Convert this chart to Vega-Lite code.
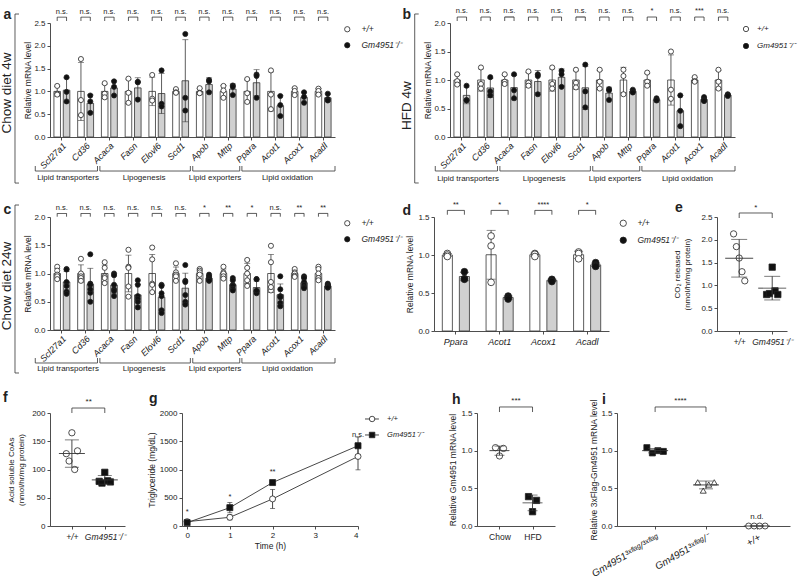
{
"$schema":"https://vega.github.io/schema/vega-lite/v6.json",
"background":"white",
"padding":{"left":0,"top":7,"right":0,"bottom":0},
"config":{
 "font":"Liberation Sans",
 "view":{"stroke":null},
 "axis":{"domainColor":"#3a3a3a","domainWidth":0.9,"tickColor":"#3a3a3a","tickWidth":0.9,"tickSize":3,"labelColor":"#222","labelFontSize":8,"labelPadding":2,"labelOverlap":false,"titleColor":"#222","titleFontSize":8.5,"titleFontWeight":"normal","titlePadding":2,"grid":false},
 "legend":{"labelColor":"#222","symbolStrokeColor":"#222","symbolStrokeWidth":0.8},
 "text":{"color":"#222"}
},
"datasets":{
 "m":[
{"p":"a","n":"Scl27a1","g":"W","v":1.12},{"p":"a","n":"Scl27a1","g":"W","v":0.95},{"p":"a","n":"Scl27a1","g":"W","v":0.93},{"p":"a","n":"Scl27a1","g":"K","v":1.31},{"p":"a","n":"Scl27a1","g":"K","v":0.99},{"p":"a","n":"Scl27a1","g":"K","v":0.78},
{"p":"a","n":"Cd36","g":"W","v":1.71},{"p":"a","n":"Cd36","g":"W","v":0.81},{"p":"a","n":"Cd36","g":"W","v":0.48},{"p":"a","n":"Cd36","g":"K","v":0.91},{"p":"a","n":"Cd36","g":"K","v":0.78},{"p":"a","n":"Cd36","g":"K","v":0.53},
{"p":"a","n":"Acaca","g":"W","v":1.18},{"p":"a","n":"Acaca","g":"W","v":0.95},{"p":"a","n":"Acaca","g":"W","v":0.87},{"p":"a","n":"Acaca","g":"K","v":1.22},{"p":"a","n":"Acaca","g":"K","v":1.1},{"p":"a","n":"Acaca","g":"K","v":0.91},
{"p":"a","n":"Fasn","g":"W","v":1.28},{"p":"a","n":"Fasn","g":"W","v":0.97},{"p":"a","n":"Fasn","g":"W","v":0.75},{"p":"a","n":"Fasn","g":"K","v":1.21},{"p":"a","n":"Fasn","g":"K","v":1.2},{"p":"a","n":"Fasn","g":"K","v":0.82},
{"p":"a","n":"Elovl6","g":"W","v":1.36},{"p":"a","n":"Elovl6","g":"W","v":0.84},{"p":"a","n":"Elovl6","g":"W","v":0.8},{"p":"a","n":"Elovl6","g":"K","v":1.46},{"p":"a","n":"Elovl6","g":"K","v":0.73},{"p":"a","n":"Elovl6","g":"K","v":0.67},
{"p":"a","n":"Scd1","g":"W","v":1.05},{"p":"a","n":"Scd1","g":"W","v":0.98},{"p":"a","n":"Scd1","g":"W","v":0.97},{"p":"a","n":"Scd1","g":"K","v":2.26},{"p":"a","n":"Scd1","g":"K","v":0.86},{"p":"a","n":"Scd1","g":"K","v":0.58},
{"p":"a","n":"Apob","g":"W","v":1.07},{"p":"a","n":"Apob","g":"W","v":0.97},{"p":"a","n":"Apob","g":"W","v":0.96},{"p":"a","n":"Apob","g":"K","v":1.25},{"p":"a","n":"Apob","g":"K","v":1.22},{"p":"a","n":"Apob","g":"K","v":0.98},
{"p":"a","n":"Mttp","g":"W","v":1.12},{"p":"a","n":"Mttp","g":"W","v":1.02},{"p":"a","n":"Mttp","g":"W","v":0.86},{"p":"a","n":"Mttp","g":"K","v":1.13},{"p":"a","n":"Mttp","g":"K","v":1.1},{"p":"a","n":"Mttp","g":"K","v":0.92},
{"p":"a","n":"Ppara","g":"W","v":1.27},{"p":"a","n":"Ppara","g":"W","v":0.96},{"p":"a","n":"Ppara","g":"W","v":0.77},{"p":"a","n":"Ppara","g":"K","v":1.37},{"p":"a","n":"Ppara","g":"K","v":1.34},{"p":"a","n":"Ppara","g":"K","v":0.86},
{"p":"a","n":"Acot1","g":"W","v":1.46},{"p":"a","n":"Acot1","g":"W","v":0.93},{"p":"a","n":"Acot1","g":"W","v":0.61},{"p":"a","n":"Acot1","g":"K","v":0.9},{"p":"a","n":"Acot1","g":"K","v":0.7},{"p":"a","n":"Acot1","g":"K","v":0.46},
{"p":"a","n":"Acox1","g":"W","v":1.07},{"p":"a","n":"Acox1","g":"W","v":1.01},{"p":"a","n":"Acox1","g":"W","v":0.92},{"p":"a","n":"Acox1","g":"K","v":0.98},{"p":"a","n":"Acox1","g":"K","v":0.88},{"p":"a","n":"Acox1","g":"K","v":0.75},
{"p":"a","n":"Acadl","g":"W","v":1.06},{"p":"a","n":"Acadl","g":"W","v":1.01},{"p":"a","n":"Acadl","g":"W","v":0.93},{"p":"a","n":"Acadl","g":"K","v":0.95},{"p":"a","n":"Acadl","g":"K","v":0.83},{"p":"a","n":"Acadl","g":"K","v":0.8},
{"p":"b","n":"Scl27a1","g":"W","v":1.1},{"p":"b","n":"Scl27a1","g":"W","v":0.98},{"p":"b","n":"Scl27a1","g":"W","v":0.92},{"p":"b","n":"Scl27a1","g":"K","v":0.9},{"p":"b","n":"Scl27a1","g":"K","v":0.65},{"p":"b","n":"Scl27a1","g":"K","v":0.64},
{"p":"b","n":"Cd36","g":"W","v":1.22},{"p":"b","n":"Cd36","g":"W","v":0.93},{"p":"b","n":"Cd36","g":"W","v":0.85},{"p":"b","n":"Cd36","g":"K","v":1.05},{"p":"b","n":"Cd36","g":"K","v":0.8},{"p":"b","n":"Cd36","g":"K","v":0.73},
{"p":"b","n":"Acaca","g":"W","v":1.1},{"p":"b","n":"Acaca","g":"W","v":0.97},{"p":"b","n":"Acaca","g":"W","v":0.93},{"p":"b","n":"Acaca","g":"K","v":1.1},{"p":"b","n":"Acaca","g":"K","v":0.82},{"p":"b","n":"Acaca","g":"K","v":0.68},
{"p":"b","n":"Fasn","g":"W","v":1.15},{"p":"b","n":"Fasn","g":"W","v":0.95},{"p":"b","n":"Fasn","g":"W","v":0.9},{"p":"b","n":"Fasn","g":"K","v":1.1},{"p":"b","n":"Fasn","g":"K","v":1.07},{"p":"b","n":"Fasn","g":"K","v":0.75},
{"p":"b","n":"Elovl6","g":"W","v":1.22},{"p":"b","n":"Elovl6","g":"W","v":0.93},{"p":"b","n":"Elovl6","g":"W","v":0.85},{"p":"b","n":"Elovl6","g":"K","v":1.16},{"p":"b","n":"Elovl6","g":"K","v":1.1},{"p":"b","n":"Elovl6","g":"K","v":0.88},
{"p":"b","n":"Scd1","g":"W","v":1.18},{"p":"b","n":"Scd1","g":"W","v":0.95},{"p":"b","n":"Scd1","g":"W","v":0.87},{"p":"b","n":"Scd1","g":"K","v":1.27},{"p":"b","n":"Scd1","g":"K","v":0.8},{"p":"b","n":"Scd1","g":"K","v":0.52},
{"p":"b","n":"Apob","g":"W","v":1.18},{"p":"b","n":"Apob","g":"W","v":0.97},{"p":"b","n":"Apob","g":"W","v":0.85},{"p":"b","n":"Apob","g":"K","v":0.84},{"p":"b","n":"Apob","g":"K","v":0.82},{"p":"b","n":"Apob","g":"K","v":0.65},
{"p":"b","n":"Mttp","g":"W","v":1.18},{"p":"b","n":"Mttp","g":"W","v":1.07},{"p":"b","n":"Mttp","g":"W","v":0.75},{"p":"b","n":"Mttp","g":"K","v":0.83},{"p":"b","n":"Mttp","g":"K","v":0.8},{"p":"b","n":"Mttp","g":"K","v":0.78},
{"p":"b","n":"Ppara","g":"W","v":1.13},{"p":"b","n":"Ppara","g":"W","v":0.97},{"p":"b","n":"Ppara","g":"W","v":0.9},{"p":"b","n":"Ppara","g":"K","v":0.68},{"p":"b","n":"Ppara","g":"K","v":0.65},{"p":"b","n":"Ppara","g":"K","v":0.64},
{"p":"b","n":"Acot1","g":"W","v":1.5},{"p":"b","n":"Acot1","g":"W","v":0.83},{"p":"b","n":"Acot1","g":"W","v":0.67},{"p":"b","n":"Acot1","g":"K","v":0.73},{"p":"b","n":"Acot1","g":"K","v":0.46},{"p":"b","n":"Acot1","g":"K","v":0.19},
{"p":"b","n":"Acox1","g":"W","v":1.05},{"p":"b","n":"Acox1","g":"W","v":0.98},{"p":"b","n":"Acox1","g":"W","v":0.97},{"p":"b","n":"Acox1","g":"K","v":0.7},{"p":"b","n":"Acox1","g":"K","v":0.66},{"p":"b","n":"Acox1","g":"K","v":0.64},{"p":"b","n":"Acox1","g":"K","v":0.63},
{"p":"b","n":"Acadl","g":"W","v":1.18},{"p":"b","n":"Acadl","g":"W","v":0.97},{"p":"b","n":"Acadl","g":"W","v":0.85},{"p":"b","n":"Acadl","g":"K","v":0.75},{"p":"b","n":"Acadl","g":"K","v":0.74},{"p":"b","n":"Acadl","g":"K","v":0.72},
{"p":"c","n":"Scl27a1","g":"W","v":1.12},{"p":"c","n":"Scl27a1","g":"W","v":1.05},{"p":"c","n":"Scl27a1","g":"W","v":0.98},{"p":"c","n":"Scl27a1","g":"W","v":0.95},{"p":"c","n":"Scl27a1","g":"W","v":0.9},
{"p":"c","n":"Scl27a1","g":"K","v":1.08},{"p":"c","n":"Scl27a1","g":"K","v":1.07},{"p":"c","n":"Scl27a1","g":"K","v":0.85},{"p":"c","n":"Scl27a1","g":"K","v":0.68},{"p":"c","n":"Scl27a1","g":"K","v":0.64},{"p":"c","n":"Scl27a1","g":"K","v":0.78},
{"p":"c","n":"Cd36","g":"W","v":1.26},{"p":"c","n":"Cd36","g":"W","v":1.0},{"p":"c","n":"Cd36","g":"W","v":0.95},{"p":"c","n":"Cd36","g":"W","v":0.92},{"p":"c","n":"Cd36","g":"W","v":0.87},
{"p":"c","n":"Cd36","g":"K","v":1.34},{"p":"c","n":"Cd36","g":"K","v":0.82},{"p":"c","n":"Cd36","g":"K","v":0.8},{"p":"c","n":"Cd36","g":"K","v":0.66},{"p":"c","n":"Cd36","g":"K","v":0.5},{"p":"c","n":"Cd36","g":"K","v":0.72},
{"p":"c","n":"Acaca","g":"W","v":1.2},{"p":"c","n":"Acaca","g":"W","v":1.1},{"p":"c","n":"Acaca","g":"W","v":0.95},{"p":"c","n":"Acaca","g":"W","v":0.92},{"p":"c","n":"Acaca","g":"W","v":0.83},
{"p":"c","n":"Acaca","g":"K","v":1.0},{"p":"c","n":"Acaca","g":"K","v":0.97},{"p":"c","n":"Acaca","g":"K","v":0.8},{"p":"c","n":"Acaca","g":"K","v":0.72},{"p":"c","n":"Acaca","g":"K","v":0.6},{"p":"c","n":"Acaca","g":"K","v":0.69},
{"p":"c","n":"Fasn","g":"W","v":1.42},{"p":"c","n":"Fasn","g":"W","v":1.12},{"p":"c","n":"Fasn","g":"W","v":1.1},{"p":"c","n":"Fasn","g":"W","v":0.77},{"p":"c","n":"Fasn","g":"W","v":0.59},
{"p":"c","n":"Fasn","g":"K","v":0.88},{"p":"c","n":"Fasn","g":"K","v":0.8},{"p":"c","n":"Fasn","g":"K","v":0.6},{"p":"c","n":"Fasn","g":"K","v":0.55},{"p":"c","n":"Fasn","g":"K","v":0.4},{"p":"c","n":"Fasn","g":"K","v":0.5},
{"p":"c","n":"Elovl6","g":"W","v":1.46},{"p":"c","n":"Elovl6","g":"W","v":1.25},{"p":"c","n":"Elovl6","g":"W","v":0.82},{"p":"c","n":"Elovl6","g":"W","v":0.8},{"p":"c","n":"Elovl6","g":"W","v":0.67},
{"p":"c","n":"Elovl6","g":"K","v":0.8},{"p":"c","n":"Elovl6","g":"K","v":0.78},{"p":"c","n":"Elovl6","g":"K","v":0.6},{"p":"c","n":"Elovl6","g":"K","v":0.35},{"p":"c","n":"Elovl6","g":"K","v":0.3},{"p":"c","n":"Elovl6","g":"K","v":0.65},
{"p":"c","n":"Scd1","g":"W","v":1.18},{"p":"c","n":"Scd1","g":"W","v":1.02},{"p":"c","n":"Scd1","g":"W","v":0.98},{"p":"c","n":"Scd1","g":"W","v":0.95},{"p":"c","n":"Scd1","g":"W","v":0.87},
{"p":"c","n":"Scd1","g":"K","v":1.15},{"p":"c","n":"Scd1","g":"K","v":0.87},{"p":"c","n":"Scd1","g":"K","v":0.85},{"p":"c","n":"Scd1","g":"K","v":0.5},{"p":"c","n":"Scd1","g":"K","v":0.45},{"p":"c","n":"Scd1","g":"K","v":0.62},
{"p":"c","n":"Apob","g":"W","v":1.08},{"p":"c","n":"Apob","g":"W","v":1.05},{"p":"c","n":"Apob","g":"W","v":1.02},{"p":"c","n":"Apob","g":"W","v":0.98},{"p":"c","n":"Apob","g":"W","v":0.87},
{"p":"c","n":"Apob","g":"K","v":0.98},{"p":"c","n":"Apob","g":"K","v":0.95},{"p":"c","n":"Apob","g":"K","v":0.92},{"p":"c","n":"Apob","g":"K","v":0.9},{"p":"c","n":"Apob","g":"K","v":0.88},{"p":"c","n":"Apob","g":"K","v":0.87},
{"p":"c","n":"Mttp","g":"W","v":1.12},{"p":"c","n":"Mttp","g":"W","v":1.02},{"p":"c","n":"Mttp","g":"W","v":1.0},{"p":"c","n":"Mttp","g":"W","v":0.95},{"p":"c","n":"Mttp","g":"W","v":0.91},
{"p":"c","n":"Mttp","g":"K","v":0.92},{"p":"c","n":"Mttp","g":"K","v":0.88},{"p":"c","n":"Mttp","g":"K","v":0.8},{"p":"c","n":"Mttp","g":"K","v":0.78},{"p":"c","n":"Mttp","g":"K","v":0.73},{"p":"c","n":"Mttp","g":"K","v":0.7},
{"p":"c","n":"Ppara","g":"W","v":1.24},{"p":"c","n":"Ppara","g":"W","v":1.1},{"p":"c","n":"Ppara","g":"W","v":1.0},{"p":"c","n":"Ppara","g":"W","v":0.88},{"p":"c","n":"Ppara","g":"W","v":0.78},
{"p":"c","n":"Ppara","g":"K","v":0.9},{"p":"c","n":"Ppara","g":"K","v":0.9},{"p":"c","n":"Ppara","g":"K","v":0.68},{"p":"c","n":"Ppara","g":"K","v":0.68},{"p":"c","n":"Ppara","g":"K","v":0.65},{"p":"c","n":"Ppara","g":"K","v":0.7},
{"p":"c","n":"Acot1","g":"W","v":1.49},{"p":"c","n":"Acot1","g":"W","v":1.2},{"p":"c","n":"Acot1","g":"W","v":0.85},{"p":"c","n":"Acot1","g":"W","v":0.7},{"p":"c","n":"Acot1","g":"W","v":0.76},
{"p":"c","n":"Acot1","g":"K","v":0.95},{"p":"c","n":"Acot1","g":"K","v":0.72},{"p":"c","n":"Acot1","g":"K","v":0.6},{"p":"c","n":"Acot1","g":"K","v":0.58},{"p":"c","n":"Acot1","g":"K","v":0.48},{"p":"c","n":"Acot1","g":"K","v":0.42},
{"p":"c","n":"Acox1","g":"W","v":1.08},{"p":"c","n":"Acox1","g":"W","v":1.02},{"p":"c","n":"Acox1","g":"W","v":1.0},{"p":"c","n":"Acox1","g":"W","v":0.96},{"p":"c","n":"Acox1","g":"W","v":0.94},
{"p":"c","n":"Acox1","g":"K","v":0.95},{"p":"c","n":"Acox1","g":"K","v":0.92},{"p":"c","n":"Acox1","g":"K","v":0.85},{"p":"c","n":"Acox1","g":"K","v":0.8},{"p":"c","n":"Acox1","g":"K","v":0.76},{"p":"c","n":"Acox1","g":"K","v":0.74},
{"p":"c","n":"Acadl","g":"W","v":1.12},{"p":"c","n":"Acadl","g":"W","v":1.08},{"p":"c","n":"Acadl","g":"W","v":1.0},{"p":"c","n":"Acadl","g":"W","v":0.92},{"p":"c","n":"Acadl","g":"W","v":0.88},
{"p":"c","n":"Acadl","g":"K","v":0.82},{"p":"c","n":"Acadl","g":"K","v":0.8},{"p":"c","n":"Acadl","g":"K","v":0.78},{"p":"c","n":"Acadl","g":"K","v":0.77},{"p":"c","n":"Acadl","g":"K","v":0.76},{"p":"c","n":"Acadl","g":"K","v":0.75},
{"p":"d","n":"Ppara","g":"W","v":1.02},{"p":"d","n":"Ppara","g":"W","v":1.0},{"p":"d","n":"Ppara","g":"W","v":0.98},{"p":"d","n":"Ppara","g":"K","v":0.78},{"p":"d","n":"Ppara","g":"K","v":0.69},{"p":"d","n":"Ppara","g":"K","v":0.68},
{"p":"d","n":"Acot1","g":"W","v":1.25},{"p":"d","n":"Acot1","g":"W","v":1.12},{"p":"d","n":"Acot1","g":"W","v":0.64},{"p":"d","n":"Acot1","g":"K","v":0.46},{"p":"d","n":"Acot1","g":"K","v":0.44},{"p":"d","n":"Acot1","g":"K","v":0.42},
{"p":"d","n":"Acox1","g":"W","v":1.02},{"p":"d","n":"Acox1","g":"W","v":1.01},{"p":"d","n":"Acox1","g":"W","v":0.98},{"p":"d","n":"Acox1","g":"K","v":0.68},{"p":"d","n":"Acox1","g":"K","v":0.67},{"p":"d","n":"Acox1","g":"K","v":0.65},
{"p":"d","n":"Acadl","g":"W","v":1.04},{"p":"d","n":"Acadl","g":"W","v":1.02},{"p":"d","n":"Acadl","g":"W","v":0.95},{"p":"d","n":"Acadl","g":"K","v":0.9},{"p":"d","n":"Acadl","g":"K","v":0.87},{"p":"d","n":"Acadl","g":"K","v":0.86},{"p":"d","n":"Acadl","g":"K","v":0.85}
 ],
 "s":[
{"p":"a","n":"Scl27a1","s":"n.s."},{"p":"a","n":"Cd36","s":"n.s."},{"p":"a","n":"Acaca","s":"n.s."},{"p":"a","n":"Fasn","s":"n.s."},{"p":"a","n":"Elovl6","s":"n.s."},{"p":"a","n":"Scd1","s":"n.s."},{"p":"a","n":"Apob","s":"n.s."},{"p":"a","n":"Mttp","s":"n.s."},{"p":"a","n":"Ppara","s":"n.s."},{"p":"a","n":"Acot1","s":"n.s."},{"p":"a","n":"Acox1","s":"n.s."},{"p":"a","n":"Acadl","s":"n.s."},
{"p":"b","n":"Scl27a1","s":"n.s."},{"p":"b","n":"Cd36","s":"n.s."},{"p":"b","n":"Acaca","s":"n.s."},{"p":"b","n":"Fasn","s":"n.s."},{"p":"b","n":"Elovl6","s":"n.s."},{"p":"b","n":"Scd1","s":"n.s."},{"p":"b","n":"Apob","s":"n.s."},{"p":"b","n":"Mttp","s":"n.s."},{"p":"b","n":"Ppara","s":"*"},{"p":"b","n":"Acot1","s":"n.s."},{"p":"b","n":"Acox1","s":"***"},{"p":"b","n":"Acadl","s":"n.s."},
{"p":"c","n":"Scl27a1","s":"n.s."},{"p":"c","n":"Cd36","s":"n.s."},{"p":"c","n":"Acaca","s":"n.s."},{"p":"c","n":"Fasn","s":"n.s."},{"p":"c","n":"Elovl6","s":"n.s."},{"p":"c","n":"Scd1","s":"n.s."},{"p":"c","n":"Apob","s":"*"},{"p":"c","n":"Mttp","s":"**"},{"p":"c","n":"Ppara","s":"*"},{"p":"c","n":"Acot1","s":"n.s."},{"p":"c","n":"Acox1","s":"**"},{"p":"c","n":"Acadl","s":"**"},
{"p":"d","n":"Ppara","s":"**"},{"p":"d","n":"Acot1","s":"*"},{"p":"d","n":"Acox1","s":"****"},{"p":"d","n":"Acadl","s":"*"}
 ],
 "gr":[
{"l":"Lipid transporters","f":-0.62,"t":2.0,"c":0.76},{"l":"Lipogenesis","f":2.1,"t":5.91,"c":3.96},{"l":"Lipid exporters","f":6.01,"t":7.99,"c":6.95},{"l":"Lipid oxidation","f":8.08,"t":12,"c":10}
 ],
 "pm":[
{"p":"a","L":"a","T":"Chow diet 4w"},{"p":"b","L":"b","T":"HFD 4w"},{"p":"c","L":"c","T":"Chow diet 24w"},{"p":"d","L":"d"},{"p":"e","L":"e"},{"p":"f","L":"f"},{"p":"g","L":"g"},{"p":"h","L":"h"},{"p":"i","L":"i"}
 ],
 "sc":[
{"p":"e","c":"+/+","r":"1","v":2.13},{"p":"e","c":"+/+","r":"2","v":1.85},{"p":"e","c":"+/+","r":"3","v":1.6},{"p":"e","c":"+/+","r":"4","v":1.3},{"p":"e","c":"+/+","r":"5","v":1.1},
{"p":"e","c":"Gm4951⁻/⁻","r":"1","v":0.8},{"p":"e","c":"Gm4951⁻/⁻","r":"2","v":0.82},{"p":"e","c":"Gm4951⁻/⁻","r":"3","v":1.4},{"p":"e","c":"Gm4951⁻/⁻","r":"4","v":0.88},{"p":"e","c":"Gm4951⁻/⁻","r":"5","v":0.8},
{"p":"f","c":"+/+","r":"1","v":128},{"p":"f","c":"+/+","r":"2","v":115},{"p":"f","c":"+/+","r":"3","v":165},{"p":"f","c":"+/+","r":"4","v":100},{"p":"f","c":"+/+","r":"5","v":133},
{"p":"f","c":"Gm4951⁻/⁻","r":"1","v":79},{"p":"f","c":"Gm4951⁻/⁻","r":"2","v":76},{"p":"f","c":"Gm4951⁻/⁻","r":"3","v":95},{"p":"f","c":"Gm4951⁻/⁻","r":"4","v":80},{"p":"f","c":"Gm4951⁻/⁻","r":"5","v":78},
{"p":"h","c":"Chow","r":"1","v":1.04},{"p":"h","c":"Chow","r":"2","v":0.93},{"p":"h","c":"Chow","r":"3","v":1.03},
{"p":"h","c":"HFD","r":"1","v":0.39},{"p":"h","c":"HFD","r":"2","v":0.19},{"p":"h","c":"HFD","r":"3","v":0.34},
{"p":"i","c":"Gm4951³ˣᶠˡᵃᵍ/³ˣᶠˡᵃᵍ","r":"1","v":1.04},{"p":"i","c":"Gm4951³ˣᶠˡᵃᵍ/³ˣᶠˡᵃᵍ","r":"2","v":0.97},{"p":"i","c":"Gm4951³ˣᶠˡᵃᵍ/³ˣᶠˡᵃᵍ","r":"3","v":1.0},{"p":"i","c":"Gm4951³ˣᶠˡᵃᵍ/³ˣᶠˡᵃᵍ","r":"4","v":0.99},
{"p":"i","c":"Gm4951³ˣᶠˡᵃᵍ/⁻","r":"1","v":0.58},{"p":"i","c":"Gm4951³ˣᶠˡᵃᵍ/⁻","r":"2","v":0.47},{"p":"i","c":"Gm4951³ˣᶠˡᵃᵍ/⁻","r":"3","v":0.55},{"p":"i","c":"Gm4951³ˣᶠˡᵃᵍ/⁻","r":"4","v":0.58},
{"p":"i","c":"+/+","r":"1","v":0},{"p":"i","c":"+/+","r":"2","v":0},{"p":"i","c":"+/+","r":"3","v":0},{"p":"i","c":"+/+","r":"4","v":0}
 ],
 "s2":[
{"p":"e","a":"+/+","b":"Gm4951⁻/⁻","s":"*"},{"p":"f","a":"+/+","b":"Gm4951⁻/⁻","s":"**"},{"p":"h","a":"Chow","b":"HFD","s":"***"},{"p":"i","a":"Gm4951³ˣᶠˡᵃᵍ/³ˣᶠˡᵃᵍ","b":"Gm4951³ˣᶠˡᵃᵍ/⁻","s":"****"}
 ],
 "nd":[{"p":"i","c":"+/+","s":"n.d."}],
 "gd":[
{"g":"W","t":0,"m":77,"sd":12,"s":""},{"g":"W","t":1,"m":154,"sd":45,"s":""},{"g":"W","t":2,"m":479,"sd":168,"s":""},{"g":"W","t":4,"m":1231,"sd":237,"s":""},
{"g":"K","t":0,"m":59,"sd":8,"s":"*"},{"g":"K","t":1,"m":325,"sd":90,"s":"*"},{"g":"K","t":2,"m":769,"sd":15,"s":"**"},{"g":"K","t":4,"m":1420,"sd":154,"s":"n.s."}
 ],
 "gl":[{"g":"W","lab":"+/+"},{"g":"K","lab":"Gm4951⁻/⁻"}]
},
"spacing":17,
"resolve":{"scale":{"fill":"independent","shape":"independent","xOffset":"independent"}},
"vconcat":[
{"hconcat":[
 {"width":285,"height":114,"resolve":{"scale":{"x":"independent"}},
  "layer":[
   {"data":{"name":"m"},"transform":[{"filter":"datum.p=='a'"}],
    "encoding":{"x":{"field":"n","type":"nominal","scale":{"domain":["Scl27a1","Cd36","Acaca","Fasn","Elovl6","Scd1","Apob","Mttp","Ppara","Acot1","Acox1","Acadl"],"paddingInner":0.33,"paddingOuter":0.165},"axis":{"title":null,"labelAngle":-45,"labelFontStyle":"italic","labelFontSize":9,"labelPadding":1}}},
    "layer":[
     {"mark":{"type":"bar","stroke":"#333","strokeWidth":0.8},"encoding":{"xOffset":{"field":"g","type":"nominal","scale":{"domain":["W","K"],"paddingInner":0.3,"paddingOuter":0}},"y":{"aggregate":"mean","field":"v","type":"quantitative","title":"Relative mRNA level","scale":{"domain":[0,2.5],"nice":false},"axis":{"title":"Relative mRNA level","values":[0,0.5,1,1.5,2,2.5],"tickCount":6,"labelOverlap":false,"format":".1f","titlePadding":1}},"fill":{"condition":{"test":"datum.g=='W'","value":"white"},"value":"#d0d0d0"}}},
     {"mark":{"type":"errorbar","extent":"stdev","ticks":true,"size":6,"thickness":0.8,"color":"#333"},"encoding":{"xOffset":{"field":"g","type":"nominal"},"y":{"field":"v","type":"quantitative","title":"Relative mRNA level","axis":{"title":"Relative mRNA level","values":[0,0.5,1,1.5,2,2.5],"tickCount":6,"labelOverlap":false,"format":".1f","titlePadding":1}}}},
     {"mark":{"type":"point","shape":"circle","filled":true,"size":26,"stroke":"#222","strokeWidth":0.8,"opacity":1},"encoding":{"xOffset":{"field":"g","type":"nominal"},"y":{"field":"v","type":"quantitative","title":"Relative mRNA level","axis":{"title":"Relative mRNA level","values":[0,0.5,1,1.5,2,2.5],"tickCount":6,"labelOverlap":false,"format":".1f","titlePadding":1}},"fill":{"field":"g","type":"nominal","scale":{"domain":["W","K"],"range":["white","#111"]},"legend":{"title":null,"orient":"right","offset":6,"labelExpr":"datum.value=='W' ? '+/+' : 'Gm4951⁻/⁻'","symbolType":"circle","symbolSize":28,"rowPadding":7,"labelOffset":10,"padding":2,"labelFontSize":8.5,"labelFontStyle":"italic"}}}},
     {"transform":[{"aggregate":[{"op":"count","as":"k"}],"groupby":["n","g"]}],"mark":{"type":"rule","color":"#333","strokeWidth":0.8},"encoding":{"xOffset":{"field":"g","type":"nominal"},"y":{"datum":2.544},"y2":{"datum":2.63}}},
     {"data":{"name":"s"},"transform":[{"filter":"datum.p=='a'"}],"layer":[
       {"mark":{"type":"tick","orient":"horizontal","size":9.4,"thickness":0.8,"color":"#333","opacity":1},"encoding":{"y":{"datum":2.63}}},
       {"mark":{"type":"text","baseline":"bottom","fontSize":7.5},"encoding":{"y":{"datum":2.664},"text":{"field":"s"}}}
     ]}
    ]},
   {"layer":[
     {"data":{"name":"gr"},"layer":[
       {"mark":{"type":"rule","color":"#333","strokeWidth":0.8},"encoding":{"x":{"field":"f","type":"quantitative","scale":{"domain":[0,12],"nice":false,"zero":false},"axis":null},"x2":{"field":"t"},"y":{"datum":-0.746}}},
       {"mark":{"type":"rule","color":"#333","strokeWidth":0.8},"encoding":{"x":{"field":"f","type":"quantitative"},"y":{"datum":-0.746},"y2":{"datum":-0.636}}},
       {"mark":{"type":"rule","color":"#333","strokeWidth":0.8},"encoding":{"x":{"field":"t","type":"quantitative"},"y":{"datum":-0.746},"y2":{"datum":-0.636}}},
       {"mark":{"type":"text","baseline":"top","fontSize":8},"encoding":{"x":{"field":"c","type":"quantitative"},"y":{"datum":-0.82},"text":{"field":"l"}}}
     ]},
     {"data":{"name":"pm"},"transform":[{"filter":"datum.p=='a'"}],"layer":[
       {"mark":{"type":"rule","color":"#333","strokeWidth":0.8},"encoding":{"x":{"datum":-1.474},"y":{"datum":-1.01},"y2":{"datum":2.697}}},
       {"mark":{"type":"rule","color":"#333","strokeWidth":0.8},"encoding":{"x":{"datum":-1.474},"x2":{"datum":-1.305},"y":{"datum":2.697}}},
       {"mark":{"type":"rule","color":"#333","strokeWidth":0.8},"encoding":{"x":{"datum":-1.474},"x2":{"datum":-1.305},"y":{"datum":-1.01}}},
       {"mark":{"type":"text","angle":270,"fontSize":13.5,"baseline":"middle"},"encoding":{"x":{"datum":-1.81},"y":{"datum":0.965},"text":{"field":"T"}}},
       {"mark":{"type":"text","fontSize":14,"fontWeight":"bold","align":"left"},"encoding":{"x":{"datum":-1.958},"y":{"datum":2.675},"text":{"field":"L"}}}
     ]}
   ]}
  ]},
 {"width":115,"height":10,"data":{"values":[{}]},"mark":{"type":"point","opacity":0}},
 {"width":285,"height":114,"resolve":{"scale":{"x":"independent"}},
  "layer":[
   {"data":{"name":"m"},"transform":[{"filter":"datum.p=='b'"}],
    "encoding":{"x":{"field":"n","type":"nominal","scale":{"domain":["Scl27a1","Cd36","Acaca","Fasn","Elovl6","Scd1","Apob","Mttp","Ppara","Acot1","Acox1","Acadl"],"paddingInner":0.33,"paddingOuter":0.165},"axis":{"title":null,"labelAngle":-45,"labelFontStyle":"italic","labelFontSize":9,"labelPadding":1}}},
    "layer":[
     {"mark":{"type":"bar","stroke":"#333","strokeWidth":0.8},"encoding":{"xOffset":{"field":"g","type":"nominal","scale":{"domain":["W","K"],"paddingInner":0.3,"paddingOuter":0}},"y":{"aggregate":"mean","field":"v","type":"quantitative","title":"Relative mRNA level","scale":{"domain":[0,2],"nice":false},"axis":{"title":"Relative mRNA level","values":[0,0.5,1,1.5,2],"tickCount":5,"labelOverlap":false,"format":".1f","titlePadding":1}},"fill":{"condition":{"test":"datum.g=='W'","value":"white"},"value":"#d0d0d0"}}},
     {"mark":{"type":"errorbar","extent":"stdev","ticks":true,"size":6,"thickness":0.8,"color":"#333"},"encoding":{"xOffset":{"field":"g","type":"nominal"},"y":{"field":"v","type":"quantitative","title":"Relative mRNA level","axis":{"title":"Relative mRNA level","values":[0,0.5,1,1.5,2],"tickCount":5,"labelOverlap":false,"format":".1f","titlePadding":1}}}},
     {"mark":{"type":"point","shape":"circle","filled":true,"size":26,"stroke":"#222","strokeWidth":0.8,"opacity":1},"encoding":{"xOffset":{"field":"g","type":"nominal"},"y":{"field":"v","type":"quantitative","title":"Relative mRNA level","axis":{"title":"Relative mRNA level","values":[0,0.5,1,1.5,2],"tickCount":5,"labelOverlap":false,"format":".1f","titlePadding":1}},"fill":{"field":"g","type":"nominal","scale":{"domain":["W","K"],"range":["white","#111"]},"legend":{"title":null,"orient":"right","offset":5,"labelExpr":"datum.value=='W' ? '+/+' : 'Gm4951⁻/⁻'","symbolType":"circle","symbolSize":28,"rowPadding":7,"labelOffset":7,"padding":2,"labelFontSize":8,"labelFontStyle":"italic"}}}},
     {"transform":[{"aggregate":[{"op":"count","as":"k"}],"groupby":["n","g"]}],"mark":{"type":"rule","color":"#333","strokeWidth":0.8},"encoding":{"xOffset":{"field":"g","type":"nominal"},"y":{"datum":2.035},"y2":{"datum":2.105}}},
     {"data":{"name":"s"},"transform":[{"filter":"datum.p=='b'"}],"layer":[
       {"mark":{"type":"tick","orient":"horizontal","size":9.4,"thickness":0.8,"color":"#333","opacity":1},"encoding":{"y":{"datum":2.105}}},
       {"mark":{"type":"text","baseline":"bottom","fontSize":7.5},"encoding":{"y":{"datum":2.132},"text":{"field":"s"}}}
     ]}
    ]},
   {"layer":[
     {"data":{"name":"gr"},"layer":[
       {"mark":{"type":"rule","color":"#333","strokeWidth":0.8},"encoding":{"x":{"field":"f","type":"quantitative","scale":{"domain":[0,12],"nice":false,"zero":false},"axis":null},"x2":{"field":"t"},"y":{"datum":-0.596}}},
       {"mark":{"type":"rule","color":"#333","strokeWidth":0.8},"encoding":{"x":{"field":"f","type":"quantitative"},"y":{"datum":-0.596},"y2":{"datum":-0.509}}},
       {"mark":{"type":"rule","color":"#333","strokeWidth":0.8},"encoding":{"x":{"field":"t","type":"quantitative"},"y":{"datum":-0.596},"y2":{"datum":-0.509}}},
       {"mark":{"type":"text","baseline":"top","fontSize":8},"encoding":{"x":{"field":"c","type":"quantitative"},"y":{"datum":-0.667},"text":{"field":"l"}}}
     ]},
     {"data":{"name":"pm"},"transform":[{"filter":"datum.p=='b'"}],"layer":[
       {"mark":{"type":"rule","color":"#333","strokeWidth":0.8},"encoding":{"x":{"datum":-1.486},"y":{"datum":-0.807},"y2":{"datum":2.158}}},
       {"mark":{"type":"rule","color":"#333","strokeWidth":0.8},"encoding":{"x":{"datum":-1.486},"x2":{"datum":-1.318},"y":{"datum":2.158}}},
       {"mark":{"type":"rule","color":"#333","strokeWidth":0.8},"encoding":{"x":{"datum":-1.486},"x2":{"datum":-1.318},"y":{"datum":-0.807}}},
       {"mark":{"type":"text","angle":270,"fontSize":13.5,"baseline":"middle"},"encoding":{"x":{"datum":-1.81},"y":{"datum":0.55},"text":{"field":"T"}}},
       {"mark":{"type":"text","fontSize":14,"fontWeight":"bold","align":"left"},"encoding":{"x":{"datum":-2.0},"y":{"datum":2.14},"text":{"field":"L"}}}
     ]}
   ]}
  ]}
],"spacing":0,"bounds":"flush","resolve":{"scale":{"fill":"independent","shape":"independent","xOffset":"independent"}}},
{"hconcat":[
 {"width":285,"height":113,"resolve":{"scale":{"x":"independent"}},
  "layer":[
   {"data":{"name":"m"},"transform":[{"filter":"datum.p=='c'"}],
    "encoding":{"x":{"field":"n","type":"nominal","scale":{"domain":["Scl27a1","Cd36","Acaca","Fasn","Elovl6","Scd1","Apob","Mttp","Ppara","Acot1","Acox1","Acadl"],"paddingInner":0.33,"paddingOuter":0.165},"axis":{"title":null,"labelAngle":-45,"labelFontStyle":"italic","labelFontSize":9,"labelPadding":1}}},
    "layer":[
     {"mark":{"type":"bar","stroke":"#333","strokeWidth":0.8},"encoding":{"xOffset":{"field":"g","type":"nominal","scale":{"domain":["W","K"],"paddingInner":0.3,"paddingOuter":0}},"y":{"aggregate":"mean","field":"v","type":"quantitative","title":"Relative mRNA level","scale":{"domain":[0,2],"nice":false},"axis":{"title":"Relative mRNA level","values":[0,0.5,1,1.5,2],"tickCount":5,"labelOverlap":false,"format":".1f","titlePadding":1}},"fill":{"condition":{"test":"datum.g=='W'","value":"white"},"value":"#d0d0d0"}}},
     {"mark":{"type":"errorbar","extent":"stdev","ticks":true,"size":6,"thickness":0.8,"color":"#333"},"encoding":{"xOffset":{"field":"g","type":"nominal"},"y":{"field":"v","type":"quantitative","title":"Relative mRNA level","axis":{"title":"Relative mRNA level","values":[0,0.5,1,1.5,2],"tickCount":5,"labelOverlap":false,"format":".1f","titlePadding":1}}}},
     {"mark":{"type":"point","shape":"circle","filled":true,"size":26,"stroke":"#222","strokeWidth":0.8,"opacity":1},"encoding":{"xOffset":{"field":"g","type":"nominal"},"y":{"field":"v","type":"quantitative","title":"Relative mRNA level","axis":{"title":"Relative mRNA level","values":[0,0.5,1,1.5,2],"tickCount":5,"labelOverlap":false,"format":".1f","titlePadding":1}},"fill":{"field":"g","type":"nominal","scale":{"domain":["W","K"],"range":["white","#111"]},"legend":{"title":null,"orient":"right","offset":6,"labelExpr":"datum.value=='W' ? '+/+' : 'Gm4951⁻/⁻'","symbolType":"circle","symbolSize":28,"rowPadding":7,"labelOffset":10,"padding":2,"labelFontSize":8.5,"labelFontStyle":"italic"}}}},
     {"transform":[{"aggregate":[{"op":"count","as":"k"}],"groupby":["n","g"]}],"mark":{"type":"rule","color":"#333","strokeWidth":0.8},"encoding":{"xOffset":{"field":"g","type":"nominal"},"y":{"datum":2.005},"y2":{"datum":2.065}}},
     {"data":{"name":"s"},"transform":[{"filter":"datum.p=='c'"}],"layer":[
       {"mark":{"type":"tick","orient":"horizontal","size":9.4,"thickness":0.8,"color":"#333","opacity":1},"encoding":{"y":{"datum":2.065}}},
       {"mark":{"type":"text","baseline":"bottom","fontSize":7.5},"encoding":{"y":{"datum":2.097},"text":{"field":"s"}}}
     ]}
    ]},
   {"layer":[
     {"data":{"name":"gr"},"layer":[
       {"mark":{"type":"rule","color":"#333","strokeWidth":0.8},"encoding":{"x":{"field":"f","type":"quantitative","scale":{"domain":[0,12],"nice":false,"zero":false},"axis":null},"x2":{"field":"t"},"y":{"datum":-0.584}}},
       {"mark":{"type":"rule","color":"#333","strokeWidth":0.8},"encoding":{"x":{"field":"f","type":"quantitative"},"y":{"datum":-0.584},"y2":{"datum":-0.496}}},
       {"mark":{"type":"rule","color":"#333","strokeWidth":0.8},"encoding":{"x":{"field":"t","type":"quantitative"},"y":{"datum":-0.584},"y2":{"datum":-0.496}}},
       {"mark":{"type":"text","baseline":"top","fontSize":8},"encoding":{"x":{"field":"c","type":"quantitative"},"y":{"datum":-0.62},"text":{"field":"l"}}}
     ]},
     {"data":{"name":"pm"},"transform":[{"filter":"datum.p=='c'"}],"layer":[
       {"mark":{"type":"rule","color":"#333","strokeWidth":0.8},"encoding":{"x":{"datum":-1.474},"y":{"datum":-0.761},"y2":{"datum":2.212}}},
       {"mark":{"type":"rule","color":"#333","strokeWidth":0.8},"encoding":{"x":{"datum":-1.474},"x2":{"datum":-1.305},"y":{"datum":2.212}}},
       {"mark":{"type":"rule","color":"#333","strokeWidth":0.8},"encoding":{"x":{"datum":-1.474},"x2":{"datum":-1.305},"y":{"datum":-0.761}}},
       {"mark":{"type":"text","angle":270,"fontSize":13.5,"baseline":"middle"},"encoding":{"x":{"datum":-1.81},"y":{"datum":0.78},"text":{"field":"T"}}},
       {"mark":{"type":"text","fontSize":14,"fontWeight":"bold","align":"left"},"encoding":{"x":{"datum":-1.958},"y":{"datum":2.124},"text":{"field":"L"}}}
     ]}
   ]}
  ]},
 {"width":99,"height":10,"data":{"values":[{}]},"mark":{"type":"point","opacity":0}},
 {"width":175,"height":114,"resolve":{"scale":{"x":"independent"}},
  "layer":[
   {"data":{"name":"m"},"transform":[{"filter":"datum.p=='d'"}],
    "encoding":{"x":{"field":"n","type":"nominal","scale":{"domain":["Ppara","Acot1","Acox1","Acadl"],"paddingInner":0.38,"paddingOuter":0.19},"axis":{"title":null,"labelAngle":0,"labelFontStyle":"italic","labelFontSize":9,"labelPadding":3}}},
    "layer":[
     {"mark":{"type":"bar","stroke":"#333","strokeWidth":0.8},"encoding":{"xOffset":{"field":"g","type":"nominal","scale":{"domain":["W","K"],"paddingInner":0.41,"paddingOuter":0}},"y":{"aggregate":"mean","field":"v","type":"quantitative","title":"Relative mRNA level","scale":{"domain":[0,1.5],"nice":false},"axis":{"title":"Relative mRNA level","values":[0,0.5,1,1.5],"tickCount":4,"labelOverlap":false,"format":".1f","titlePadding":3}},"fill":{"condition":{"test":"datum.g=='W'","value":"white"},"value":"#d0d0d0"}}},
     {"mark":{"type":"errorbar","extent":"stdev","ticks":true,"size":9,"thickness":0.8,"color":"#333"},"encoding":{"xOffset":{"field":"g","type":"nominal"},"y":{"field":"v","type":"quantitative","title":"Relative mRNA level","axis":{"title":"Relative mRNA level","values":[0,0.5,1,1.5],"tickCount":4,"labelOverlap":false,"format":".1f","titlePadding":3}}}},
     {"mark":{"type":"point","shape":"circle","filled":true,"size":45,"stroke":"#222","strokeWidth":0.8,"opacity":1},"encoding":{"xOffset":{"field":"g","type":"nominal"},"y":{"field":"v","type":"quantitative","title":"Relative mRNA level","axis":{"title":"Relative mRNA level","values":[0,0.5,1,1.5],"tickCount":4,"labelOverlap":false,"format":".1f","titlePadding":3}},"fill":{"field":"g","type":"nominal","scale":{"domain":["W","K"],"range":["white","#111"]},"legend":{"title":null,"orient":"right","offset":8,"labelExpr":"datum.value=='W' ? '+/+' : 'Gm4951⁻/⁻'","symbolType":"circle","symbolSize":40,"rowPadding":6,"labelOffset":10,"padding":2,"labelFontSize":8.5,"labelFontStyle":"italic"}}}},
     {"transform":[{"aggregate":[{"op":"count","as":"k"}],"groupby":["n","g"]}],"mark":{"type":"rule","color":"#333","strokeWidth":0.8},"encoding":{"xOffset":{"field":"g","type":"nominal"},"y":{"datum":1.53},"y2":{"datum":1.588}}},
     {"data":{"name":"s"},"transform":[{"filter":"datum.p=='d'"}],"layer":[
       {"mark":{"type":"tick","orient":"horizontal","size":17,"thickness":0.8,"color":"#333","opacity":1},"encoding":{"y":{"datum":1.588}}},
       {"mark":{"type":"text","baseline":"bottom","fontSize":7.5},"encoding":{"y":{"datum":1.605},"text":{"field":"s"}}}
     ]}
    ]},
   {"data":{"name":"pm"},"transform":[{"filter":"datum.p=='d'"}],"mark":{"type":"text","fontSize":14,"fontWeight":"bold","align":"left"},"encoding":{"x":{"datum":-0.72,"type":"quantitative","scale":{"domain":[0,4],"nice":false,"zero":false},"axis":null},"y":{"datum":1.579},"text":{"field":"L"}}}
  ]},
 {"width":108,"height":10,"data":{"values":[{}]},"mark":{"type":"point","opacity":0}},
 {"width":70,"height":114,"resolve":{"scale":{"x":"independent"}},
  "layer":[
   {"data":{"name":"sc"},"transform":[{"filter":"datum.p=='e'"}],
    "encoding":{"x":{"field":"c","type":"nominal","scale":{"type":"point","domain":["+/+","Gm4951⁻/⁻"],"padding":0.56,"align":0.6},"axis":{"title":null,"labelAngle":0,"labelFontStyle":"italic","labelFontSize":8.5,"labelPadding":3}}},
    "layer":[
     {"mark":{"type":"point","filled":true,"size":40,"stroke":"#222","strokeWidth":0.8,"opacity":1},"encoding":{"xOffset":{"field":"r","type":"nominal","scale":{"range":[-7,7]}},"y":{"field":"v","type":"quantitative","title":["CO₂ released","(nmol/hr/mg protein)"],"scale":{"domain":[0,2.5],"nice":false},"axis":{"values":[0,0.5,1,1.5,2,2.5],"tickCount":6,"labelOverlap":false,"format":".1f","title":["CO₂ released","(nmol/hr/mg protein)"],"titleFontSize":8,"titlePadding":9}},"shape":{"field":"c","type":"nominal","scale":{"domain":["+/+","Gm4951⁻/⁻"],"range":["circle","square"]},"legend":null},"fill":{"field":"c","type":"nominal","scale":{"domain":["+/+","Gm4951⁻/⁻"],"range":["white","#111"]},"legend":null}}},
     {"mark":{"type":"errorbar","extent":"stdev","ticks":true,"size":16,"thickness":0.9,"color":"#333"},"encoding":{"y":{"field":"v","type":"quantitative","title":["CO₂ released","(nmol/hr/mg protein)"],"axis":{"values":[0,0.5,1,1.5,2,2.5],"tickCount":6,"labelOverlap":false,"format":".1f","title":["CO₂ released","(nmol/hr/mg protein)"],"titleFontSize":8,"titlePadding":9}}}},
     {"mark":{"type":"tick","orient":"horizontal","size":28,"thickness":0.9,"color":"#333","opacity":1},"encoding":{"y":{"aggregate":"mean","field":"v","type":"quantitative","title":["CO₂ released","(nmol/hr/mg protein)"],"axis":{"values":[0,0.5,1,1.5,2,2.5],"tickCount":6,"labelOverlap":false,"format":".1f","title":["CO₂ released","(nmol/hr/mg protein)"],"titleFontSize":8,"titlePadding":9}}}},
     {"data":{"name":"s2"},"transform":[{"filter":"datum.p=='e'"}],"layer":[
       {"mark":{"type":"rule","color":"#333","strokeWidth":0.8},"encoding":{"x":{"field":"a","type":"nominal"},"x2":{"field":"b"},"y":{"datum":2.588}}},
       {"mark":{"type":"rule","color":"#333","strokeWidth":0.8},"encoding":{"x":{"field":"a","type":"nominal"},"y":{"datum":2.478},"y2":{"datum":2.588}}},
       {"mark":{"type":"rule","color":"#333","strokeWidth":0.8},"encoding":{"x":{"field":"b","type":"nominal"},"y":{"datum":2.478},"y2":{"datum":2.588}}}
     ]}
    ]},
   {"layer":[
     {"data":{"name":"s2"},"transform":[{"filter":"datum.p=='e'"}],"mark":{"type":"text","baseline":"bottom","fontSize":8},"encoding":{"x":{"datum":0.553,"type":"quantitative","scale":{"domain":[0,1],"nice":false,"zero":false},"axis":null},"y":{"datum":2.61},"text":{"field":"s"}}},
     {"data":{"name":"pm"},"transform":[{"filter":"datum.p=='e'"}],"mark":{"type":"text","fontSize":14,"fontWeight":"bold","align":"left"},"encoding":{"x":{"datum":-0.6},"y":{"datum":2.697},"text":{"field":"L"}}}
   ]}
  ]}
],"spacing":0,"bounds":"flush","resolve":{"scale":{"fill":"independent","shape":"independent","xOffset":"independent"}}},
{"hconcat":[
 {"width":75,"height":113,"resolve":{"scale":{"x":"independent"}},
  "layer":[
   {"data":{"name":"sc"},"transform":[{"filter":"datum.p=='f'"}],
    "encoding":{"x":{"field":"c","type":"nominal","scale":{"type":"point","domain":["+/+","Gm4951⁻/⁻"],"padding":0.64,"align":0.52},"axis":{"title":null,"labelAngle":0,"labelFontStyle":"italic","labelFontSize":8.5,"labelPadding":3}}},
    "layer":[
     {"mark":{"type":"point","filled":true,"size":40,"stroke":"#222","strokeWidth":0.8,"opacity":1},"encoding":{"xOffset":{"field":"r","type":"nominal","scale":{"range":[-7,7]}},"y":{"field":"v","type":"quantitative","title":["Acid soluble CoAs","(nmol/hr/mg protein)"],"scale":{"domain":[0,200],"nice":false},"axis":{"values":[0,50,100,150,200],"tickCount":5,"labelOverlap":false,"format":"d","title":["Acid soluble CoAs","(nmol/hr/mg protein)"],"titleFontSize":8,"titlePadding":6}},"shape":{"field":"c","type":"nominal","scale":{"domain":["+/+","Gm4951⁻/⁻"],"range":["circle","square"]},"legend":null},"fill":{"field":"c","type":"nominal","scale":{"domain":["+/+","Gm4951⁻/⁻"],"range":["white","#111"]},"legend":null}}},
     {"mark":{"type":"errorbar","extent":"stdev","ticks":true,"size":14,"thickness":0.9,"color":"#333"},"encoding":{"y":{"field":"v","type":"quantitative","title":["Acid soluble CoAs","(nmol/hr/mg protein)"],"axis":{"values":[0,50,100,150,200],"tickCount":5,"labelOverlap":false,"format":"d","title":["Acid soluble CoAs","(nmol/hr/mg protein)"],"titleFontSize":8,"titlePadding":6}}}},
     {"mark":{"type":"tick","orient":"horizontal","size":26,"thickness":0.9,"color":"#333","opacity":1},"encoding":{"y":{"aggregate":"mean","field":"v","type":"quantitative","title":["Acid soluble CoAs","(nmol/hr/mg protein)"],"axis":{"values":[0,50,100,150,200],"tickCount":5,"labelOverlap":false,"format":"d","title":["Acid soluble CoAs","(nmol/hr/mg protein)"],"titleFontSize":8,"titlePadding":6}}}},
     {"data":{"name":"s2"},"transform":[{"filter":"datum.p=='f'"}],"layer":[
       {"mark":{"type":"rule","color":"#333","strokeWidth":0.8},"encoding":{"x":{"field":"a","type":"nominal"},"x2":{"field":"b"},"y":{"datum":208.8}}},
       {"mark":{"type":"rule","color":"#333","strokeWidth":0.8},"encoding":{"x":{"field":"a","type":"nominal"},"y":{"datum":200},"y2":{"datum":208.8}}},
       {"mark":{"type":"rule","color":"#333","strokeWidth":0.8},"encoding":{"x":{"field":"b","type":"nominal"},"y":{"datum":200},"y2":{"datum":208.8}}}
     ]}
    ]},
   {"layer":[
     {"data":{"name":"s2"},"transform":[{"filter":"datum.p=='f'"}],"mark":{"type":"text","baseline":"bottom","fontSize":8},"encoding":{"x":{"datum":0.515,"type":"quantitative","scale":{"domain":[0,1],"nice":false,"zero":false},"axis":null},"y":{"datum":212.4},"text":{"field":"s"}}},
     {"data":{"name":"pm"},"transform":[{"filter":"datum.p=='f'"}],"mark":{"type":"text","fontSize":14,"fontWeight":"bold","align":"left"},"encoding":{"x":{"datum":-0.627},"y":{"datum":226.5},"text":{"field":"L"}}}
   ]}
  ]},
 {"width":57,"height":10,"data":{"values":[{}]},"mark":{"type":"point","opacity":0}},
 {"width":176,"height":113,
  "layer":[
   {"data":{"name":"gd"},
    "encoding":{"x":{"field":"t","type":"quantitative","scale":{"domain":[-0.12,4],"nice":false,"zero":false},"axis":{"values":[0,1,2,3,4],"tickCount":5,"labelOverlap":false,"title":"Time (h)","titlePadding":2}},
     "y":{"field":"m","type":"quantitative","title":"Triglyceride (mg/dL)","scale":{"domain":[0,2000],"nice":false},"axis":{"values":[0,500,1000,1500,2000],"tickCount":5,"labelOverlap":false,"format":"d","title":"Triglyceride (mg/dL)","titlePadding":3}}},
    "layer":[
     {"mark":{"type":"line","color":"#333","strokeWidth":0.9},"encoding":{"detail":{"field":"g"}}},
     {"mark":{"type":"errorbar","ticks":true,"size":5,"thickness":0.9,"color":"#333"},"encoding":{"yError":{"field":"sd"}}},
     {"mark":{"type":"point","filled":true,"size":36,"stroke":"#222","strokeWidth":0.8,"opacity":1},"encoding":{"shape":{"field":"g","type":"nominal","scale":{"domain":["W","K"],"range":["circle","square"]},"legend":null},"fill":{"field":"g","type":"nominal","scale":{"domain":["W","K"],"range":["white","#111"]},"legend":null}}},
     {"transform":[{"filter":"datum.g=='K'"}],"mark":{"type":"text","fontSize":7.5,"baseline":"middle","dy":-11},"encoding":{"text":{"field":"s"}}}
    ]},
   {"data":{"name":"gl"},"transform":[{"filter":"datum.g=='W'"}],"layer":[
     {"mark":{"type":"rule","color":"#333","strokeWidth":0.9},"encoding":{"x":{"datum":4.164},"x2":{"datum":4.49},"y":{"datum":1894}}},
     {"mark":{"type":"point","shape":"circle","filled":true,"fill":"white","size":30,"stroke":"#222","strokeWidth":0.8,"opacity":1},"encoding":{"x":{"datum":4.33},"y":{"datum":1894}}},
     {"mark":{"type":"text","align":"left","baseline":"middle","fontSize":7.5,"fontStyle":"italic"},"encoding":{"x":{"datum":4.68},"y":{"datum":1894},"text":{"field":"lab"}}}
   ]},
   {"data":{"name":"gl"},"transform":[{"filter":"datum.g=='K'"}],"layer":[
     {"mark":{"type":"rule","color":"#333","strokeWidth":0.9},"encoding":{"x":{"datum":4.164},"x2":{"datum":4.49},"y":{"datum":1611}}},
     {"mark":{"type":"point","shape":"square","filled":true,"fill":"#111","size":30,"stroke":"#222","strokeWidth":0.8,"opacity":1},"encoding":{"x":{"datum":4.33},"y":{"datum":1611}}},
     {"mark":{"type":"text","align":"left","baseline":"middle","fontSize":7.5,"fontStyle":"italic"},"encoding":{"x":{"datum":4.68},"y":{"datum":1611},"text":{"field":"lab"}}}
   ]},
   {"data":{"name":"pm"},"transform":[{"filter":"datum.p=='g'"}],"mark":{"type":"text","fontSize":14,"fontWeight":"bold","align":"left"},"encoding":{"x":{"datum":-0.892},"y":{"datum":2248},"text":{"field":"L"}}}
  ]},
 {"width":119,"height":10,"data":{"values":[{}]},"mark":{"type":"point","opacity":0}},
 {"width":78,"height":113,"resolve":{"scale":{"x":"independent"}},
  "layer":[
   {"data":{"name":"sc"},"transform":[{"filter":"datum.p=='h'"}],
    "encoding":{"x":{"field":"c","type":"nominal","scale":{"type":"point","domain":["Chow","HFD"],"padding":0.68,"align":0.5},"axis":{"title":null,"labelAngle":0,"labelFontSize":8.5,"labelPadding":3}}},
    "layer":[
     {"mark":{"type":"point","filled":true,"size":40,"stroke":"#222","strokeWidth":0.8,"opacity":1},"encoding":{"xOffset":{"field":"r","type":"nominal","scale":{"range":[-6,6]}},"y":{"field":"v","type":"quantitative","title":"Relative Gm4951 mRNA level","scale":{"domain":[0,1.5],"nice":false},"axis":{"values":[0,0.5,1,1.5],"tickCount":4,"labelOverlap":false,"format":".1f","title":"Relative Gm4951 mRNA level","titlePadding":3}},"shape":{"field":"c","type":"nominal","scale":{"domain":["Chow","HFD"],"range":["circle","square"]},"legend":null},"fill":{"field":"c","type":"nominal","scale":{"domain":["Chow","HFD"],"range":["white","#111"]},"legend":null}}},
     {"mark":{"type":"errorbar","extent":"stdev","ticks":true,"size":10,"thickness":0.9,"color":"#333"},"encoding":{"y":{"field":"v","type":"quantitative","title":"Relative Gm4951 mRNA level","axis":{"values":[0,0.5,1,1.5],"tickCount":4,"labelOverlap":false,"format":".1f","title":"Relative Gm4951 mRNA level","titlePadding":3}}}},
     {"mark":{"type":"tick","orient":"horizontal","size":20,"thickness":0.9,"color":"#333","opacity":1},"encoding":{"y":{"aggregate":"mean","field":"v","type":"quantitative","title":"Relative Gm4951 mRNA level","axis":{"values":[0,0.5,1,1.5],"tickCount":4,"labelOverlap":false,"format":".1f","title":"Relative Gm4951 mRNA level","titlePadding":3}}}},
     {"data":{"name":"s2"},"transform":[{"filter":"datum.p=='h'"}],"layer":[
       {"mark":{"type":"rule","color":"#333","strokeWidth":0.8},"encoding":{"x":{"field":"a","type":"nominal"},"x2":{"field":"b"},"y":{"datum":1.58}}},
       {"mark":{"type":"rule","color":"#333","strokeWidth":0.8},"encoding":{"x":{"field":"a","type":"nominal"},"y":{"datum":1.513},"y2":{"datum":1.58}}},
       {"mark":{"type":"rule","color":"#333","strokeWidth":0.8},"encoding":{"x":{"field":"b","type":"nominal"},"y":{"datum":1.513},"y2":{"datum":1.58}}}
     ]}
    ]},
   {"layer":[
     {"data":{"name":"s2"},"transform":[{"filter":"datum.p=='h'"}],"mark":{"type":"text","baseline":"bottom","fontSize":8},"encoding":{"x":{"datum":0.5,"type":"quantitative","scale":{"domain":[0,1],"nice":false,"zero":false},"axis":null},"y":{"datum":1.606},"text":{"field":"s"}}},
     {"data":{"name":"pm"},"transform":[{"filter":"datum.p=='h'"}],"mark":{"type":"text","fontSize":14,"fontWeight":"bold","align":"left"},"encoding":{"x":{"datum":-0.32},"y":{"datum":1.673},"text":{"field":"L"}}}
   ]}
  ]},
 {"width":62,"height":10,"data":{"values":[{}]},"mark":{"type":"point","opacity":0}},
 {"width":173,"height":113,"resolve":{"scale":{"x":"independent"}},
  "layer":[
   {"data":{"name":"sc"},"transform":[{"filter":"datum.p=='i'"}],
    "encoding":{"x":{"field":"c","type":"nominal","scale":{"type":"point","domain":["Gm4951³ˣᶠˡᵃᵍ/³ˣᶠˡᵃᵍ","Gm4951³ˣᶠˡᵃᵍ/⁻","+/+"],"padding":0.7,"align":0.535},"axis":{"title":null,"labelAngle":-30,"labelFontStyle":"italic","labelFontSize":10,"labelPadding":3}}},
    "layer":[
     {"mark":{"type":"point","filled":true,"size":36,"stroke":"#222","strokeWidth":0.8,"opacity":1},"encoding":{"xOffset":{"field":"r","type":"nominal","scale":{"range":[-11,11]}},"y":{"field":"v","type":"quantitative","title":"Relative 3xFlag-Gm4951 mRNA level","scale":{"domain":[0,1.5],"nice":false},"axis":{"values":[0,0.5,1,1.5],"tickCount":4,"labelOverlap":false,"format":".1f","title":"Relative 3xFlag-Gm4951 mRNA level","titlePadding":2}},"shape":{"field":"c","type":"nominal","scale":{"domain":["Gm4951³ˣᶠˡᵃᵍ/³ˣᶠˡᵃᵍ","Gm4951³ˣᶠˡᵃᵍ/⁻","+/+"],"range":["square","triangle-up","circle"]},"legend":null},"fill":{"field":"c","type":"nominal","scale":{"domain":["Gm4951³ˣᶠˡᵃᵍ/³ˣᶠˡᵃᵍ","Gm4951³ˣᶠˡᵃᵍ/⁻","+/+"],"range":["#111","white","white"]},"legend":null}}},
     {"mark":{"type":"errorbar","extent":"stdev","ticks":true,"size":14,"thickness":0.9,"color":"#333"},"encoding":{"y":{"field":"v","type":"quantitative","title":"Relative 3xFlag-Gm4951 mRNA level","axis":{"values":[0,0.5,1,1.5],"tickCount":4,"labelOverlap":false,"format":".1f","title":"Relative 3xFlag-Gm4951 mRNA level","titlePadding":2}}}},
     {"mark":{"type":"tick","orient":"horizontal","size":26,"thickness":0.9,"color":"#333","opacity":1},"encoding":{"y":{"aggregate":"mean","field":"v","type":"quantitative","title":"Relative 3xFlag-Gm4951 mRNA level","axis":{"values":[0,0.5,1,1.5],"tickCount":4,"labelOverlap":false,"format":".1f","title":"Relative 3xFlag-Gm4951 mRNA level","titlePadding":2}}}},
     {"data":{"name":"nd"},"mark":{"type":"text","fontSize":8,"baseline":"middle"},"encoding":{"y":{"datum":0.12},"text":{"field":"s"}}},
     {"data":{"name":"s2"},"transform":[{"filter":"datum.p=='i'"}],"layer":[
       {"mark":{"type":"rule","color":"#333","strokeWidth":0.8},"encoding":{"x":{"field":"a","type":"nominal"},"x2":{"field":"b"},"y":{"datum":1.58}}},
       {"mark":{"type":"rule","color":"#333","strokeWidth":0.8},"encoding":{"x":{"field":"a","type":"nominal"},"y":{"datum":1.513},"y2":{"datum":1.58}}},
       {"mark":{"type":"rule","color":"#333","strokeWidth":0.8},"encoding":{"x":{"field":"b","type":"nominal"},"y":{"datum":1.513},"y2":{"datum":1.58}}}
     ]}
    ]},
   {"layer":[
     {"data":{"name":"s2"},"transform":[{"filter":"datum.p=='i'"}],"mark":{"type":"text","baseline":"bottom","fontSize":8},"encoding":{"x":{"datum":0.367,"type":"quantitative","scale":{"domain":[0,1],"nice":false,"zero":false},"axis":null},"y":{"datum":1.606},"text":{"field":"s"}}},
     {"data":{"name":"pm"},"transform":[{"filter":"datum.p=='i'"}],"mark":{"type":"text","fontSize":14,"fontWeight":"bold","align":"left"},"encoding":{"x":{"datum":-0.087},"y":{"datum":1.673},"text":{"field":"L"}}}
   ]}
  ]}
],"spacing":0,"bounds":"flush","resolve":{"scale":{"fill":"independent","shape":"independent","xOffset":"independent"}}}
]
}
